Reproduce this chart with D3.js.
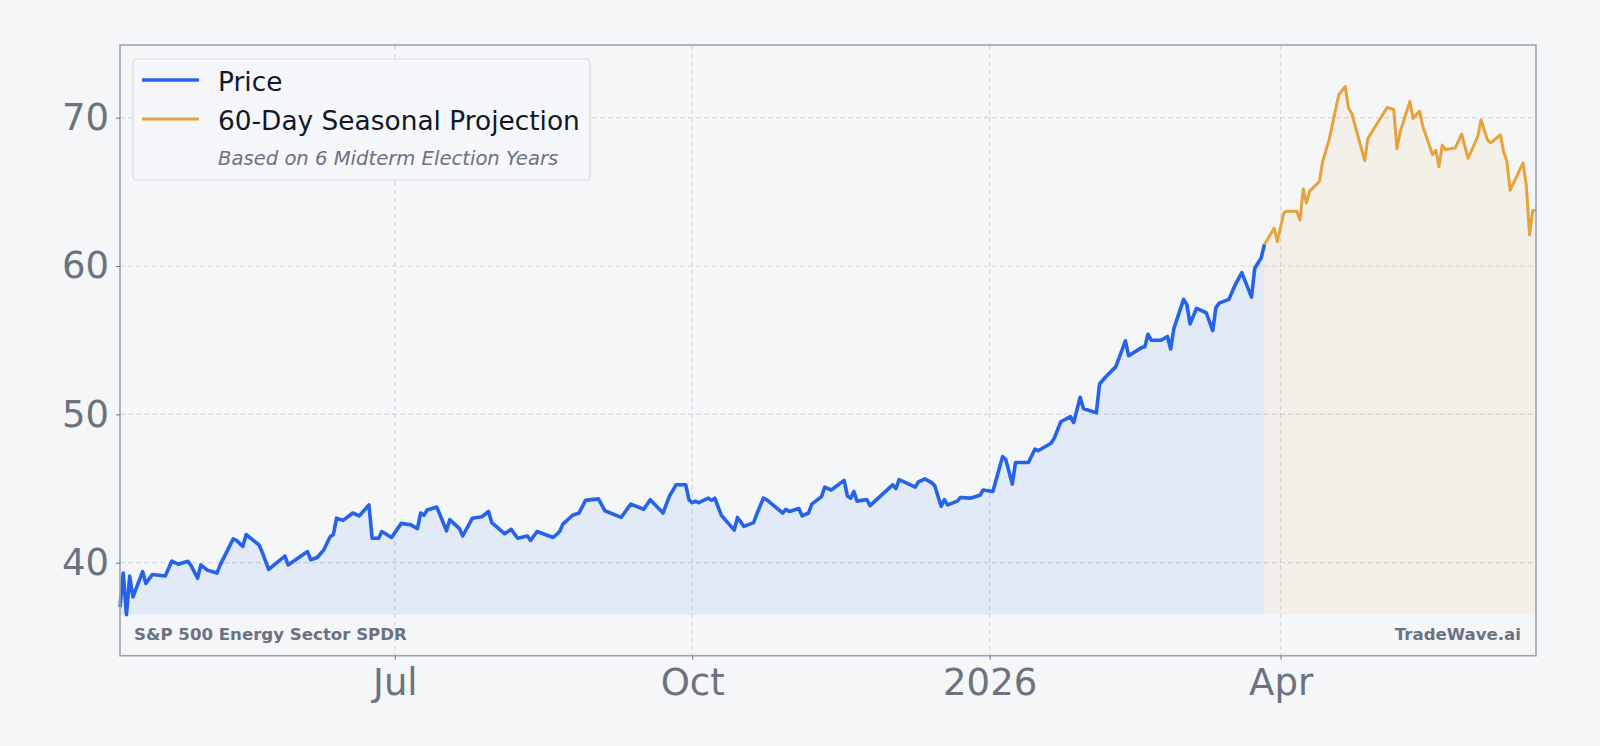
<!DOCTYPE html>
<html>
<head>
<meta charset="utf-8">
<script src="https://cdn.jsdelivr.net/npm/d3@7"></script>
<style>
  html, body { margin: 0; padding: 0; background: #f5f6f8; }
  svg { display: block; font-family: "DejaVu Sans", sans-serif; }
</style>
</head>
<body>
<div id="container"></div>
<script>
/* DATA */
const priceDates = [
  "2025-04-07","2025-04-08","2025-04-09","2025-04-10","2025-04-11","2025-04-14","2025-04-15","2025-04-17",
  "2025-04-21","2025-04-23","2025-04-25","2025-04-28","2025-04-29","2025-05-01","2025-05-02","2025-05-04",
  "2025-05-07","2025-05-08","2025-05-12","2025-05-13","2025-05-15","2025-05-16","2025-05-20","2025-05-21",
  "2025-05-23","2025-05-28","2025-05-29","2025-06-02","2025-06-04","2025-06-05","2025-06-07","2025-06-09",
  "2025-06-11","2025-06-12","2025-06-13","2025-06-15","2025-06-18","2025-06-20","2025-06-23","2025-06-24",
  "2025-06-26","2025-06-27","2025-06-30","2025-07-03","2025-07-06","2025-07-08","2025-07-09","2025-07-10",
  "2025-07-11","2025-07-14","2025-07-17","2025-07-18","2025-07-21","2025-07-22","2025-07-25","2025-07-28",
  "2025-07-30","2025-07-31","2025-08-04","2025-08-06","2025-08-08","2025-08-11","2025-08-12","2025-08-14",
  "2025-08-19","2025-08-21","2025-08-22","2025-08-25","2025-08-27","2025-08-29","2025-09-02","2025-09-04",
  "2025-09-09","2025-09-12","2025-09-16","2025-09-18","2025-09-22","2025-09-23","2025-09-24","2025-09-26",
  "2025-09-29","2025-09-30","2025-10-01","2025-10-02","2025-10-03","2025-10-06","2025-10-07","2025-10-08",
  "2025-10-10","2025-10-13","2025-10-14","2025-10-15","2025-10-17","2025-10-20","2025-10-21","2025-10-23",
  "2025-10-24","2025-10-29","2025-10-30","2025-10-31","2025-11-03","2025-11-04","2025-11-06","2025-11-07",
  "2025-11-10","2025-11-11","2025-11-12","2025-11-13","2025-11-17","2025-11-18","2025-11-19","2025-11-20",
  "2025-11-21","2025-11-24","2025-11-25","2025-12-02","2025-12-03","2025-12-04","2025-12-09","2025-12-10",
  "2025-12-12","2025-12-14","2025-12-15","2025-12-17","2025-12-18","2025-12-19","2025-12-22","2025-12-23",
  "2025-12-26","2025-12-29","2025-12-30","2026-01-02","2026-01-05","2026-01-06","2026-01-08","2026-01-09",
  "2026-01-13","2026-01-15","2026-01-16","2026-01-20","2026-01-21","2026-01-23","2026-01-26","2026-01-27",
  "2026-01-29","2026-01-30","2026-02-03","2026-02-04","2026-02-06","2026-02-09","2026-02-12","2026-02-13",
  "2026-02-17","2026-02-18","2026-02-19","2026-02-20","2026-02-23","2026-02-25","2026-02-26","2026-02-27",
  "2026-03-02","2026-03-03","2026-03-04","2026-03-06","2026-03-09","2026-03-11","2026-03-12","2026-03-13",
  "2026-03-16","2026-03-18","2026-03-20","2026-03-23","2026-03-24","2026-03-26","2026-03-27"
];
const priceValues = [
  37.0, 39.3, 36.5, 39.1, 37.7, 39.4, 38.6, 39.2,
  39.1, 40.1, 39.9, 40.1, 39.8, 38.95, 39.85, 39.5,
  39.3, 39.85, 41.6, 41.5, 41.1, 41.9, 41.2, 40.7,
  39.55, 40.45, 39.85, 40.45, 40.75, 40.2, 40.35, 40.85,
  41.75, 41.9, 43.0, 42.85, 43.35, 43.15, 43.9, 41.65,
  41.65, 42.1, 41.7, 42.65, 42.55, 42.3, 43.35, 43.2,
  43.55, 43.75, 42.15, 42.9, 42.3, 41.8, 43.0, 43.1,
  43.45, 42.7, 41.95, 42.25, 41.65, 41.8, 41.5, 42.1,
  41.7, 42.1, 42.6, 43.2, 43.35, 44.2, 44.3, 43.5,
  43.05, 43.95, 43.6, 44.25, 43.35, 43.95, 44.5, 45.25,
  45.25, 44.25, 44.05, 44.15, 44.05, 44.35, 44.2, 44.35,
  43.2, 42.45, 42.2, 43.05, 42.45, 42.7, 43.3, 44.35,
  44.25, 43.35, 43.6, 43.45, 43.65, 43.15, 43.35, 43.95,
  44.45, 45.1, 45.0, 44.9, 45.55, 44.5, 44.35, 44.8,
  44.15, 44.25, 43.85, 45.25, 45.0, 45.6, 45.1, 45.45,
  45.65, 45.4, 45.2, 43.8, 44.25, 43.9, 44.15, 44.4,
  44.35, 44.55, 44.9, 44.8, 47.15, 46.95, 45.3, 46.75,
  46.75, 47.65, 47.55, 48.05, 48.4, 49.5, 49.85, 49.45,
  51.15, 50.4, 50.1, 52.05, 52.55, 53.2, 54.95, 53.95,
  54.5, 54.55, 55.4, 55.0, 55.0, 55.25, 54.4, 55.8,
  57.75, 57.4, 56.1, 57.15, 56.85, 55.65, 57.2, 57.5,
  57.75, 58.75, 59.55, 57.9, 59.85, 60.55, 61.45
];

const projDates = [
  "2026-03-27","2026-03-30","2026-03-31","2026-04-02","2026-04-03","2026-04-06","2026-04-07","2026-04-08",
  "2026-04-09","2026-04-10","2026-04-13","2026-04-14","2026-04-16","2026-04-19","2026-04-21","2026-04-22",
  "2026-04-23","2026-04-27","2026-04-28","2026-04-30","2026-05-04","2026-05-06","2026-05-07","2026-05-08",
  "2026-05-11","2026-05-12","2026-05-14","2026-05-15","2026-05-18","2026-05-19","2026-05-20","2026-05-21",
  "2026-05-22","2026-05-25","2026-05-27","2026-05-29","2026-06-01","2026-06-02","2026-06-04","2026-06-05",
  "2026-06-08","2026-06-09","2026-06-10","2026-06-11","2026-06-15","2026-06-16","2026-06-17","2026-06-18",
  "2026-06-19"
];
const projValues = [
  61.45, 62.55, 61.65, 63.6, 63.7, 63.7, 63.1, 65.2,
  64.25, 65.05, 65.7, 67.05, 68.5, 71.55, 72.1, 70.65,
  70.3, 67.1, 68.6, 69.3, 70.7, 70.55, 67.9, 69.05,
  71.1, 69.95, 70.45, 69.4, 67.5, 67.8, 66.7, 68.15,
  67.85, 67.95, 68.9, 67.25, 68.75, 69.85, 68.5, 68.3,
  68.85, 67.7, 67.05, 65.1, 66.95, 65.45, 62.1, 63.75,
  63.75
];

const yTicks = [40, 50, 60, 70];
const xTickDates = ["2025-07-01", "2025-10-01", "2026-01-01", "2026-04-01"];
const xTickLabels = ["Jul", "Oct", "2026", "Apr"];
const yDomain = [33.73, 74.9];

const seriesNames = ["Price", "60-Day Seasonal Projection"];
const legendNote = "Based on 6 Midterm Election Years";
const sourceLabel = "S&P 500 Energy Sector SPDR";
const brandLabel = "TradeWave.ai";

/* CONSTANTS */
const width = 1600,
  height = 746,
  margin = { top: 45, right: 64, bottom: 90.3, left: 120 };

const parse = d3.timeParse("%Y-%m-%d");
const price = priceDates.map((d, i) => ({ date: parse(d), value: priceValues[i] }));
const proj = projDates.map((d, i) => ({ date: parse(d), value: projValues[i] }));
const xTicks = xTickDates.map(parse);

const svg = d3.select("#container")
  .append("svg")
  .attr("width", width)
  .attr("height", height);

svg.append("rect")
  .attr("width", width)
  .attr("height", height)
  .attr("fill", "#f5f6f8");

const xScale = d3.scaleTime()
  .domain([price[0].date, proj[proj.length - 1].date])
  .range([margin.left, width - margin.right]);

const yScale = d3.scaleLinear()
  .domain(yDomain)
  .range([height - margin.bottom, margin.top]);

const baseValue = d3.min(price.concat(proj), d => d.value);

// + GRID
const grid = svg.append("g").attr("class", "grid");
grid.selectAll(".hgrid")
  .data(yTicks)
  .join("line")
  .attr("x1", margin.left)
  .attr("x2", width - margin.right)
  .attr("y1", d => yScale(d))
  .attr("y2", d => yScale(d))
  .attr("stroke", "#d5d8dd")
  .attr("stroke-width", 1.2)
  .attr("stroke-dasharray", "5,3");

grid.selectAll(".vgrid")
  .data(xTicks)
  .join("line")
  .attr("x1", d => xScale(d))
  .attr("x2", d => xScale(d))
  .attr("y1", margin.top)
  .attr("y2", height - margin.bottom)
  .attr("stroke", "#d5d8dd")
  .attr("stroke-width", 1.2)
  .attr("stroke-dasharray", "5,3");

// + AREAS
const area = d3.area()
  .x(d => xScale(d.date))
  .y0(yScale(baseValue))
  .y1(d => yScale(d.value));

svg.append("path")
  .datum(proj)
  .attr("fill", "#e9a23b")
  .attr("fill-opacity", 0.08)
  .attr("d", area);

svg.append("path")
  .datum(price)
  .attr("fill", "#3b82f6")
  .attr("fill-opacity", 0.1)
  .attr("d", area);

// + LINES
const line = d3.line()
  .x(d => xScale(d.date))
  .y(d => yScale(d.value));

svg.append("path")
  .datum(proj)
  .attr("fill", "none")
  .attr("stroke", "#e9a23b")
  .attr("stroke-width", 3)
  .attr("stroke-linejoin", "round")
  .attr("d", line);

svg.append("path")
  .datum(price)
  .attr("fill", "none")
  .attr("stroke", "#2563eb")
  .attr("stroke-width", 3.6)
  .attr("stroke-linejoin", "round")
  .attr("d", line);

// + FRAME
svg.append("rect")
  .attr("x", margin.left)
  .attr("y", margin.top)
  .attr("width", width - margin.left - margin.right)
  .attr("height", height - margin.top - margin.bottom)
  .attr("fill", "none")
  .attr("stroke", "#9ea3ad")
  .attr("stroke-width", 1.6);

// + AXES
const xAxis = d3.axisBottom(xScale)
  .tickValues(xTicks)
  .tickFormat((d, i) => xTickLabels[i])
  .tickSize(4)
  .tickPadding(9);

const yAxis = d3.axisLeft(yScale)
  .tickValues(yTicks)
  .tickSize(4)
  .tickPadding(7);

svg.append("g")
  .attr("transform", `translate(0, ${height - margin.bottom})`)
  .call(xAxis)
  .call(g => g.select(".domain").remove());

svg.append("g")
  .attr("transform", `translate(${margin.left}, 0)`)
  .call(yAxis)
  .call(g => g.select(".domain").remove());

svg.selectAll(".tick line").attr("stroke", "#6b7280");
svg.selectAll(".tick text")
  .attr("fill", "#6b7280")
  .style("font-family", "DejaVu Sans")
  .style("font-size", "37px");

// + FOOTER LABELS
svg.append("text")
  .attr("x", margin.left + 14)
  .attr("y", height - margin.bottom - 16)
  .attr("fill", "#6b7280")
  .style("font-size", "16.6px")
  .style("font-weight", "bold")
  .text(sourceLabel);

svg.append("text")
  .attr("x", width - margin.right - 15)
  .attr("y", height - margin.bottom - 16)
  .attr("text-anchor", "end")
  .attr("fill", "#6b7280")
  .style("font-size", "16.6px")
  .style("font-weight", "bold")
  .text(brandLabel);

// + LEGEND
const legend = svg.append("g").attr("transform", "translate(133, 59)");
legend.append("rect")
  .attr("width", 457)
  .attr("height", 121)
  .attr("rx", 4)
  .attr("fill", "#f6f7f9")
  .attr("fill-opacity", 0.9)
  .attr("stroke", "#dadde2")
  .attr("stroke-width", 1.2);

const legendColors = ["#2563eb", "#e9a23b"];
const legendWidths = [3.6, 3];
seriesNames.forEach((name, i) => {
  const y = 21 + i * 39;
  legend.append("line")
    .attr("x1", 9).attr("x2", 66)
    .attr("y1", y).attr("y2", y)
    .attr("stroke", legendColors[i])
    .attr("stroke-width", legendWidths[i]);
  legend.append("text")
    .attr("x", 85)
    .attr("y", y + 1.5)
    .attr("dy", "0.35em")
    .attr("fill", "#111827")
    .style("font-size", "26.4px")
    .text(name);
});

legend.append("text")
  .attr("x", 85)
  .attr("y", 99)
  .attr("dy", "0.35em")
  .attr("fill", "#6b7280")
  .style("font-size", "19.6px")
  .style("font-style", "italic")
  .text(legendNote);
</script>
</body>
</html>
